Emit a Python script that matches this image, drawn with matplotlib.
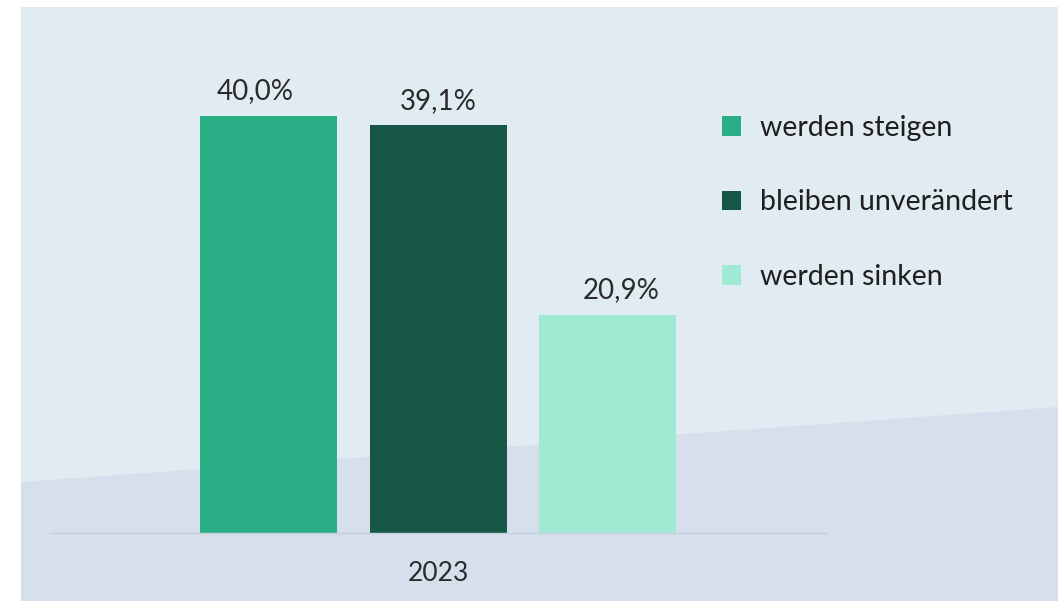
import matplotlib
matplotlib.use("Agg")
import matplotlib.pyplot as plt
from matplotlib.patches import Polygon, Rectangle

categories = ["2023"]
series_names = ["werden steigen", "bleiben unverändert", "werden sinken"]
values = [40.0, 39.1, 20.9]
value_labels = ["40,0%", "39,1%", "20,9%"]
colors = ["#2aae86", "#165845", "#a0e9d3"]

plt.rcParams['font.family'] = ['Lato', 'DejaVu Sans']

W, H = 1058, 601
fig = plt.figure(figsize=(W / 100, H / 100), dpi=100)
fig.patch.set_facecolor("white")

def fx(px):
    return px / W

def fy(py):
    return 1 - py / H

# background panel
fig.patches.append(Rectangle((fx(21), 0), fx(1058) - fx(21), fy(7), transform=fig.transFigure,
                             facecolor="#e1ebf2", edgecolor="none", zorder=-10))
fig.patches.append(Polygon([(fx(21), fy(482)), (fx(1058), fy(407)), (fx(1058), 0), (fx(21), 0)],
                           closed=True, transform=fig.transFigure,
                           facecolor="#d6e0ec", edgecolor="none", zorder=-9))

left, right = 50, 826
bottom_px, top_px = 533, 7
ax = fig.add_axes([fx(left), fy(bottom_px), fx(right) - fx(left), fy(top_px) - fy(bottom_px)])
ax.set_facecolor("none")
ax.set_zorder(1)

bw = 137 / 169.5
label_dx_pt = [-9.5, 0, 9.5]  # horizontal nudge of value labels (points)
bars = []
for i, (v, c, name) in enumerate(zip(values, colors, series_names)):
    b = ax.bar(i, v, width=bw, color=c, label=name, zorder=2, linewidth=0)
    bars.append(b)
    ax.annotate(value_labels[i], xy=(i, v), xytext=(label_dx_pt[i], 12), textcoords="offset points",
                ha="center", va="baseline", fontsize=20, color="#2b2b2b")

ax.set_xlim(-(268.5 - left) / 169.5, (right - 268.5) / 169.5)
ax.set_ylim(0, 40 * (bottom_px - top_px) / (bottom_px - 116))

for s in ["top", "right", "left"]:
    ax.spines[s].set_visible(False)
ax.spines["bottom"].set_color("#c5d0dc")
ax.spines["bottom"].set_linewidth(1)
ax.set_yticks([])
ax.set_xticks([1])
ax.set_xticklabels(categories, fontsize=19, color="#2b2b2b")
ax.tick_params(axis="x", length=0, pad=20)

leg = fig.legend(handles=[b[0] for b in bars], labels=series_names,
                 loc="upper left", bbox_to_anchor=(fx(722), fy(115)),
                 frameon=False, fontsize=20.5, handlelength=0.68, handleheight=0.68,
                 handletextpad=0.66, labelspacing=1.7, borderpad=0, borderaxespad=0)
for t in leg.get_texts():
    t.set_color("#1f1f1f")

fig.savefig("out.png", dpi=100, facecolor="white")
